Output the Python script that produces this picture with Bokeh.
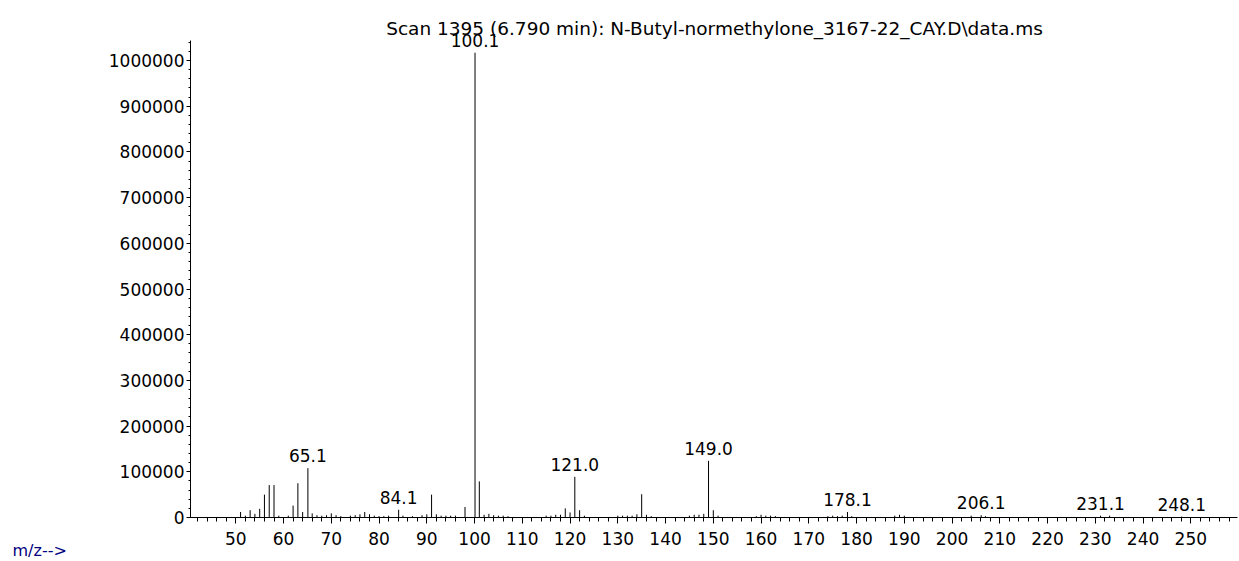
from bokeh.plotting import figure
from bokeh.models import (Range1d, SingleIntervalTicker, BasicTickFormatter,
                          Label, LabelSet, ColumnDataSource)
from bokeh.core.properties import value
from bokeh.embed import file_html
from bokeh.resources import INLINE

# ---- data ----
mz = [51.0, 52.0, 53.0, 54.0, 55.0, 56.0, 57.0, 58.0, 59.0, 61.0, 62.0, 63.0,
      64.0, 65.1, 66.0, 67.0, 68.0, 69.0, 70.0, 71.0, 72.0, 74.0, 75.0, 76.0,
      77.0, 78.0, 79.0, 80.0, 81.0, 82.0, 84.1, 85.0, 87.0, 89.0, 90.0, 91.0,
      92.0, 93.0, 94.0, 95.0, 96.0, 98.0, 100.1, 101.0, 102.0, 103.0, 104.0,
      105.0, 106.0, 107.0, 115.0, 116.0, 117.0, 118.0, 119.0, 120.0, 121.0,
      122.0, 123.0, 130.0, 131.0, 132.0, 133.0, 134.0, 135.0, 136.0, 137.0,
      145.0, 146.0, 147.0, 148.0, 149.0, 150.0, 151.0, 159.0, 160.0, 161.0,
      162.0, 163.0, 174.0, 175.0, 176.0, 177.0, 178.1, 179.0, 188.0, 189.0,
      190.0, 204.0, 206.1, 207.0, 231.1, 233.0, 248.1]
intensity = [12000, 4000, 16000, 8000, 19000, 50000, 71000, 71000, 4000, 4000,
             26000, 75000, 12000, 108000, 9000, 5000, 4000, 5000, 9000, 5000,
             3000, 4000, 5000, 7000, 12000, 7000, 4000, 3000, 3000, 4000, 17000,
             4000, 3000, 5000, 7000, 50000, 7000, 4000, 4000, 4000, 4000, 23000,
             1017000, 79000, 6000, 8000, 5000, 4000, 4000, 3000, 4000, 4000,
             6000, 6000, 20000, 11000, 89000, 16000, 4000, 4000, 4000, 4000,
             4000, 7000, 51000, 6000, 3000, 4000, 6000, 6000, 8000, 124000,
             16000, 4000, 3000, 6000, 4000, 4000, 3000, 3000, 4000, 3000, 4000,
             12000, 3000, 4000, 6000, 4000, 4000, 5000, 3000, 4000, 4000, 2000]
labeled_mz = [65.1, 84.1, 100.1, 121.0, 149.0, 178.1, 206.1, 231.1, 248.1]
title_text = "Scan 1395 (6.790 min): N-Butyl-normethylone_3167-22_CAY.D\\data.ms"
axis_caption = "m/z-->"

FONT = "DejaVu Sans"

lookup = dict(zip(mz, intensity))
lab_src = ColumnDataSource(dict(
    x=labeled_mz,
    y=[lookup[m] for m in labeled_mz],
    t=["%.1f" % m for m in labeled_mz],
))
bar_src = ColumnDataSource(dict(x=mz, y=intensity, y0=[0] * len(mz)))

W, H = 1238, 560
PX_X = 4.775            # pixels per m/z unit
PX_Y = 457.0 / 1e6      # pixels per count
xs = 50 - 235.3 / PX_X
xe = xs + W / PX_X
ye = 517 / PX_Y
ys = -(H - 517) / PX_Y
x_axis_lo = xs + 190 / PX_X
x_axis_hi = xs + 1237 / PX_X
y_axis_hi = 477 / PX_Y

p = figure(width=W, height=H, output_backend="svg", toolbar_location=None,
           x_range=Range1d(xs, xe), y_range=Range1d(ys, ye),
           min_border=0, min_border_left=0, min_border_right=0,
           min_border_top=0, min_border_bottom=0)
p.outline_line_color = None
p.xgrid.visible = False
p.ygrid.visible = False
p.background_fill_color = "white"
p.border_fill_color = "white"

p.segment(x0="x", y0="y0", x1="x", y1="y", source=bar_src,
          line_color="black", line_width=1)

# axes
xa = p.xaxis[0]
xa.ticker = SingleIntervalTicker(interval=10, num_minor_ticks=5)
xa.fixed_location = 0
xa.bounds = (x_axis_lo, x_axis_hi)
ya = p.yaxis[0]
ya.ticker = SingleIntervalTicker(interval=100000, num_minor_ticks=5)
ya.formatter = BasicTickFormatter(use_scientific=False)
ya.fixed_location = x_axis_lo
ya.bounds = (0, y_axis_hi)
for ax in (xa, ya):
    ax.axis_line_color = "black"
    ax.major_tick_line_color = "black"
    ax.minor_tick_line_color = "black"
    ax.major_label_text_font = FONT
    ax.major_label_text_font_size = "17px"
    ax.major_label_text_color = "black"
    ax.major_tick_in = 0
    ax.minor_tick_in = 0
xa.major_tick_out = 6
xa.minor_tick_out = 4
xa.major_label_standoff = 8
ya.major_tick_out = 4
ya.minor_tick_out = 2
ya.major_label_standoff = 2
ya.major_label_text_baseline = "top"

labels = LabelSet(x="x", y="y", text="t", source=lab_src, y_offset=6,
                  text_align="center", text_baseline="alphabetic",
                  text_font=value(FONT), text_font_size=value("17px"),
                  text_color="black")
p.add_layout(labels)

p.add_layout(Label(x=xs + 714 / PX_X, y=(517 - 28) / PX_Y, text=title_text,
                   text_align="center", text_baseline="alphabetic",
                   text_font=FONT, text_font_size="18.5px", text_color="black"))
p.add_layout(Label(x=xs + 12 / PX_X, y=(517 - 550) / PX_Y, text=axis_caption,
                   text_align="left", text_baseline="middle", text_font=FONT,
                   text_font_size="16px", text_color="#000080"))

open("out.html", "w").write(file_html(p, INLINE))
